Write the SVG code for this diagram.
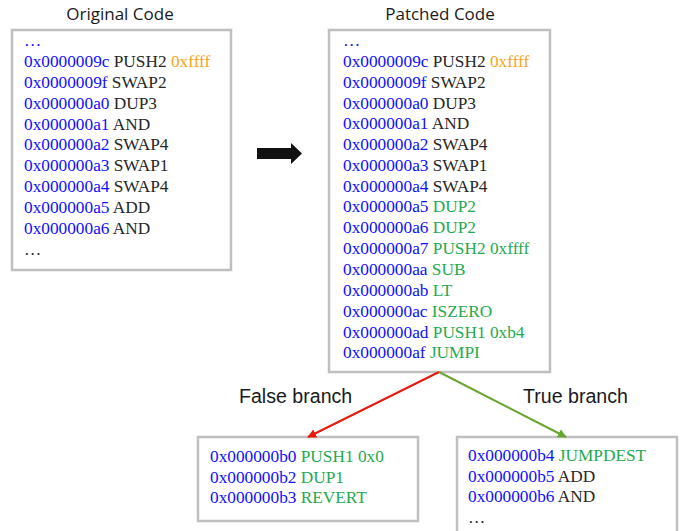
<svg xmlns="http://www.w3.org/2000/svg" width="683" height="531" viewBox="0 0 683 531">
<defs>
<style>
.box{fill:#ffffff;stroke:#bfbfbf;stroke-width:2.5}
.code{font-family:"Liberation Serif","Times New Roman",serif;font-size:17.3px;fill:#262626}
.a{fill:#1010ff}
.o{fill:#f5a518}
.g{fill:#1faa4f}
.title{font-family:"Open Sans","Liberation Sans",sans-serif;font-size:17px;fill:#1a1a1a;text-anchor:middle}
.lbl{font-family:"Liberation Sans",Arial,sans-serif;font-size:19.6px;fill:#1a1a1a}
</style>
<marker id="mr" viewBox="0 0 10 10" refX="9" refY="5" markerWidth="9" markerHeight="9" markerUnits="userSpaceOnUse" orient="auto"><path d="M0,0 L10,5 L0,10 z" fill="#e8180c"/></marker>
<marker id="mg" viewBox="0 0 10 10" refX="9" refY="5" markerWidth="9" markerHeight="9" markerUnits="userSpaceOnUse" orient="auto"><path d="M0,0 L10,5 L0,10 z" fill="#6aa532"/></marker>
</defs>
<rect width="683" height="531" fill="#ffffff"/>

<g id="original">
<text class="title" x="120" y="20">Original Code</text>
<rect class="box" x="12" y="30" width="219" height="240"/>
<g class="code">
<text x="24" y="46" class="a">…</text>
<text x="24" y="67"><tspan class="a">0x0000009c</tspan> PUSH2 <tspan class="o">0xffff</tspan></text>
<text x="24" y="88"><tspan class="a">0x0000009f</tspan> SWAP2</text>
<text x="24" y="109"><tspan class="a">0x000000a0</tspan> DUP3</text>
<text x="24" y="130"><tspan class="a">0x000000a1</tspan> AND</text>
<text x="24" y="150"><tspan class="a">0x000000a2</tspan> SWAP4</text>
<text x="24" y="171"><tspan class="a">0x000000a3</tspan> SWAP1</text>
<text x="24" y="192"><tspan class="a">0x000000a4</tspan> SWAP4</text>
<text x="24" y="213"><tspan class="a">0x000000a5</tspan> ADD</text>
<text x="24" y="234"><tspan class="a">0x000000a6</tspan> AND</text>
<text x="24" y="255">…</text>
</g>
</g>

<g id="patched">
<text class="title" x="440" y="20">Patched Code</text>
<rect class="box" x="329" y="30" width="221" height="342"/>
<g class="code">
<text x="343" y="46" class="a">…</text>
<text x="343" y="67"><tspan class="a">0x0000009c</tspan> PUSH2 <tspan class="o">0xffff</tspan></text>
<text x="343" y="88"><tspan class="a">0x0000009f</tspan> SWAP2</text>
<text x="343" y="109"><tspan class="a">0x000000a0</tspan> DUP3</text>
<text x="343" y="129"><tspan class="a">0x000000a1</tspan> AND</text>
<text x="343" y="150"><tspan class="a">0x000000a2</tspan> SWAP4</text>
<text x="343" y="171"><tspan class="a">0x000000a3</tspan> SWAP1</text>
<text x="343" y="192"><tspan class="a">0x000000a4</tspan> SWAP4</text>
<text x="343" y="212"><tspan class="a">0x000000a5</tspan> <tspan class="g">DUP2</tspan></text>
<text x="343" y="233"><tspan class="a">0x000000a6</tspan> <tspan class="g">DUP2</tspan></text>
<text x="343" y="254"><tspan class="a">0x000000a7</tspan> <tspan class="g">PUSH2 0xffff</tspan></text>
<text x="343" y="275"><tspan class="a">0x000000aa</tspan> <tspan class="g">SUB</tspan></text>
<text x="343" y="296"><tspan class="a">0x000000ab</tspan> <tspan class="g">LT</tspan></text>
<text x="343" y="317"><tspan class="a">0x000000ac</tspan> <tspan class="g">ISZERO</tspan></text>
<text x="343" y="338"><tspan class="a">0x000000ad</tspan> <tspan class="g">PUSH1 0xb4</tspan></text>
<text x="343" y="358"><tspan class="a">0x000000af</tspan> <tspan class="g">JUMPI</tspan></text>
</g>
</g>

<g id="false-block">
<rect class="box" x="198" y="437" width="220" height="84"/>
<g class="code">
<text x="210" y="462"><tspan class="a">0x000000b0</tspan> <tspan class="g">PUSH1 0x0</tspan></text>
<text x="210" y="483"><tspan class="a">0x000000b2</tspan> <tspan class="g">DUP1</tspan></text>
<text x="210" y="503"><tspan class="a">0x000000b3</tspan> <tspan class="g">REVERT</tspan></text>
</g>
</g>

<g id="true-block">
<rect class="box" x="457" y="437" width="220" height="110"/>
<g class="code">
<text x="468" y="461"><tspan class="a">0x000000b4</tspan> <tspan class="g">JUMPDEST</tspan></text>
<text x="468" y="482"><tspan class="a">0x000000b5</tspan> ADD</text>
<text x="468" y="502"><tspan class="a">0x000000b6</tspan> AND</text>
<text x="468" y="523">…</text>
</g>
</g>

<g id="connectors">
<polygon points="257,148 291,148 291,143 302,153.5 291,164 291,159 257,159" fill="#111111"/>
<line x1="439" y1="372" x2="308" y2="437" stroke="#e8180c" stroke-width="2" marker-end="url(#mr)"/>
<line x1="439" y1="372" x2="566" y2="437" stroke="#6aa532" stroke-width="2" marker-end="url(#mg)"/>
<text class="lbl" x="239" y="403">False branch</text>
<text class="lbl" x="523" y="403">True branch</text>
</g>
</svg>
